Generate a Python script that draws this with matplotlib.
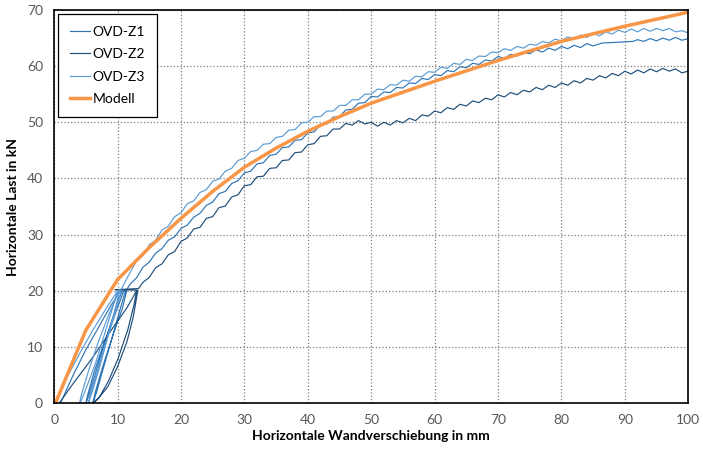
import matplotlib
matplotlib.use("Agg")
import matplotlib.pyplot as plt

plt.rcParams['font.family'] = ['Lato', 'DejaVu Sans']

# --- data (displacement mm, load kN) ---
# OVD-Z1: hysteresis loops up to 20 kN, then monotonic loading
z1_loop_x = [1.0, 3, 5, 7, 9, 10.5, 10.8, 10.2, 8.6, 7.1, 5.9, 5.3, 5.0,
             5.3, 6.3, 7.8, 9.5, 11.0, 11.3, 10.6, 9.1, 7.7, 6.7, 6.2, 6.1,
             6.5, 7.8, 9.4, 10.8, 11.5]
z1_loop_y = [0, 5, 9.5, 13.5, 17.5, 20, 20.1, 18.5, 13, 7.5, 3, 0.8, 0,
             1.5, 5.5, 10.5, 15.5, 20, 20.1, 17.5, 11.5, 6, 2, 0.3, 0,
             2, 7, 12.5, 17, 20.3]
z1_mono_x = list(range(12, 86)) + [86.4] + [91.3] + list(range(92, 101))
z1_mono_y = [21.2, 22.3, 24.2, 25.1, 26.7, 27.5, 29.0, 29.6, 31.1, 31.7,
             33.1, 33.8, 35.2, 35.8, 37.3, 37.7, 39.1, 39.6, 41.0, 41.3,
             42.6, 42.8, 44.1, 44.3, 45.5, 45.6, 46.8, 46.9, 48.1, 48.3,
             49.5, 49.7, 50.9, 51.0, 52.2, 52.3, 53.4, 53.5, 54.6, 54.5,
             55.4, 55.3, 56.2, 56.1, 57.0, 56.9, 57.8, 57.6, 58.5, 58.3,
             59.2, 59.0, 59.9, 59.7, 60.5, 60.3, 61.1, 60.9, 61.7, 61.4,
             62.1, 61.8, 62.5, 62.2, 62.9, 62.5, 63.2, 62.8, 63.5, 63.1,
             63.7, 63.3, 64.0, 63.6, 64.1,
             64.4, 64.7, 64.4, 64.9, 64.5, 65.0, 64.6, 65.1, 64.6, 64.9]

# OVD-Z2: loops up to 20 kN at ~13 mm, plateau near 50 kN
z2_loop_x = [0.8, 3, 6, 9, 11.5, 13.0, 12.6, 11.6, 10.1, 8.6, 7.1, 6.0,
             6.8, 8.5, 10.0, 11.5, 12.5, 13.2, 11.0, 9.6, 13.3]
z2_loop_y = [0, 3.5, 8, 13, 17, 20, 17.5, 13, 8, 4, 1, 0,
             0.6, 3, 6.5, 11, 15.5, 20.1, 20.2, 20.2, 20.4]
z2_mono_x = list(range(14, 101))
z2_mono_y = [21.5, 22.4, 24.1, 24.8, 26.4, 27.0, 28.8, 29.4, 31.0, 31.3,
             32.9, 33.2, 34.8, 35.1, 36.7, 37.1, 38.7, 38.9, 40.3, 40.4,
             41.8, 41.9, 43.2, 43.3, 44.6, 44.7, 46.0, 46.2, 47.5, 47.6,
             48.8, 48.8, 49.8, 49.5, 50.3, 49.7, 50.0, 49.3, 50.0, 49.5,
             50.3, 49.9, 50.7, 50.3, 51.3, 51.1, 52.0, 51.7, 52.6, 52.3,
             53.2, 52.9, 53.8, 53.5, 54.3, 54.0, 54.9, 54.5, 55.3, 54.9,
             55.7, 55.4, 56.2, 55.8, 56.6, 56.2, 57.0, 56.6, 57.4, 57.0,
             57.8, 57.5, 58.3, 57.9, 58.7, 58.3, 59.1, 58.6, 59.3, 58.8,
             59.5, 59.0, 59.6, 59.1, 59.5, 58.8, 59.1]

# OVD-Z3: loops up to 20 kN at ~10 mm, then monotonic loading
z3_loop_x = [0.3, 2, 4, 6, 8, 10, 9.5, 8.0, 6.5, 5.0, 4.3, 4.0,
             4.3, 5.5, 7.0, 8.7, 10.3, 9.8, 8.5, 7.2, 6.0, 5.5, 5.4,
             5.8, 7.0, 8.5, 9.8, 10.6]
z3_loop_y = [0, 4.5, 8.8, 12.8, 16.5, 20, 18, 12.5, 7, 2.5, 0.5, 0,
             1.5, 6, 11, 16, 20.2, 17.5, 12, 6.5, 2, 0.3, 0,
             2, 6.5, 12, 16.5, 20.3]
z3_mono_x = list(range(11, 101))
z3_mono_y = [21.2, 23.3, 25.3, 26.3, 28.2, 29.0, 30.8, 31.5, 33.2, 33.9,
             35.5, 36.0, 37.5, 38.0, 39.5, 39.9, 41.3, 41.8, 43.2, 43.6,
             44.8, 45.0, 46.1, 46.2, 47.3, 47.5, 48.6, 48.7, 49.9, 50.0,
             51.0, 51.0, 52.0, 52.0, 53.0, 53.0, 54.0, 54.0, 55.0, 55.0,
             55.9, 55.8, 56.7, 56.6, 57.5, 57.3, 58.2, 58.1, 59.0, 58.9,
             59.8, 59.6, 60.5, 60.3, 61.2, 61.0, 61.8, 61.7, 62.5, 62.4,
             63.1, 62.8, 63.5, 63.2, 63.9, 63.7, 64.4, 64.1, 64.8, 64.5,
             65.2, 64.8, 65.5, 65.1, 65.8, 65.4, 66.1, 65.7, 66.4, 66.0,
             66.6, 66.1, 66.7, 66.2, 66.7, 66.3, 66.7, 66.1, 66.3, 65.9]

# Modell
mod_x = [0.2, 5, 10, 15, 20, 25, 30, 35, 40, 45, 50, 60, 70, 80, 90, 100]
mod_y = [0, 13, 22, 27.7, 32.9, 37.7, 42.0, 45.4, 48.4, 51.0, 53.4, 57.3, 61.0, 64.4, 67.1, 69.6]

x_ticks = list(range(0, 101, 10))
y_ticks = list(range(0, 71, 10))

fig = plt.figure(figsize=(7.03, 4.51), dpi=100)
ax = fig.add_axes([0.077, 0.106, 0.902, 0.872])

ax.plot(z1_loop_x + z1_mono_x, z1_loop_y + z1_mono_y, color='#2E75B6', lw=0.85, label='OVD-Z1')
ax.plot(z2_loop_x + z2_mono_x, z2_loop_y + z2_mono_y, color='#1F4E79', lw=0.85, label='OVD-Z2')
ax.plot(z3_loop_x + z3_mono_x, z3_loop_y + z3_mono_y, color='#5B9BD5', lw=0.85, label='OVD-Z3')
ax.plot(mod_x, mod_y, color='#F79646', lw=2.5, label='Modell')

ax.set_xlim(0, 100)
ax.set_ylim(0, 70)
ax.set_xticks(x_ticks)
ax.set_yticks(y_ticks)
ax.tick_params(length=0, labelsize=10, labelcolor='#595959', pad=8)
ax.grid(True, linestyle=':', color='#7f7f7f', linewidth=0.9)
for s in ax.spines.values():
    s.set_linewidth(1.2)
    s.set_color('black')

ax.set_xlabel('Horizontale Wandverschiebung in mm', fontsize=10, fontweight='bold', labelpad=3)
ax.set_ylabel('Horizontale Last in kN', fontsize=10, fontweight='bold', labelpad=6)

leg = ax.legend(loc='upper left', bbox_to_anchor=(0, 1), borderaxespad=0.3, fontsize=10,
                handlelength=1.45, handletextpad=0.15, labelspacing=0.75,
                fancybox=False, edgecolor='black', framealpha=1, borderpad=0.85)
leg.get_frame().set_linewidth(0.9)

fig.savefig('out.png', dpi=100)
